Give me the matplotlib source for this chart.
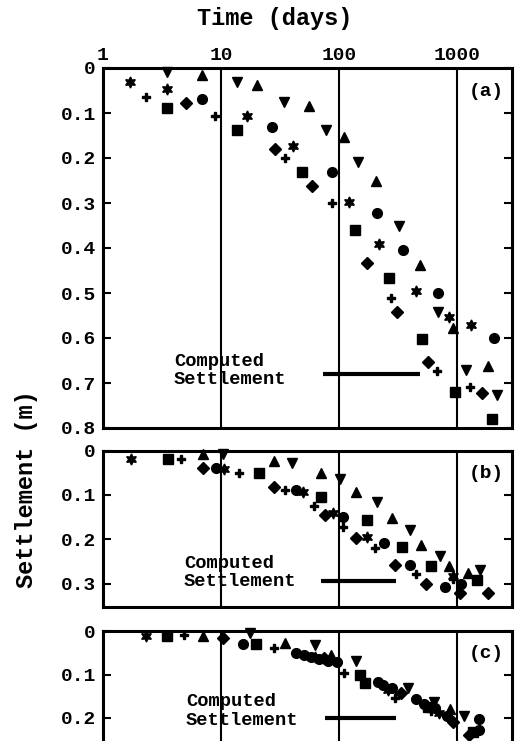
import matplotlib.pyplot as plt
from matplotlib.ticker import FixedLocator, FuncFormatter

plt.rcParams['font.family'] = ['Liberation Mono', 'DejaVu Sans Mono']
plt.rcParams['font.weight'] = 'bold'

# settlement records per plate, (time in days, settlement in m)
# panel (a)
a_star = [(1.69, 0.031), (3.45, 0.046), (16.7, 0.107), (40.6, 0.174), (122, 0.298),
          (218, 0.391), (448, 0.496), (846, 0.553), (1308, 0.572)]
a_plus = [(2.31, 0.064), (8.85, 0.107), (35.0, 0.201), (87.4, 0.300), (276, 0.510),
          (675, 0.673), (1291, 0.709)]
a_down = [(3.45, 0.009), (13.5, 0.031), (33.9, 0.075), (77.8, 0.137), (144, 0.209),
          (320, 0.350), (683, 0.542), (1187, 0.670), (2169, 0.727)]
a_up = [(6.83, 0.016), (20.3, 0.037), (55.1, 0.085), (110, 0.153), (203, 0.250),
        (478, 0.438), (914, 0.577), (1807, 0.663)]
a_square = [(3.45, 0.089), (13.7, 0.137), (48.4, 0.231), (135, 0.361), (262, 0.466),
            (500, 0.603), (958, 0.720), (1968, 0.779)]
a_diamond = [(5.03, 0.078), (28.4, 0.179), (58.8, 0.262), (173, 0.433), (310, 0.542),
             (562, 0.653), (1607, 0.722)]
a_circle = [(6.9, 0.068), (27.0, 0.131), (87.4, 0.231), (208, 0.322), (345, 0.404),
            (692, 0.500), (2060, 0.600)]

# panel (b)
b_star = [(1.72, 0.018), (10.6, 0.042), (49.2, 0.093), (88.3, 0.141), (171, 0.194),
          (910, 0.283)]
b_plus = [(4.56, 0.020), (14.2, 0.051), (35.0, 0.089), (60.8, 0.125), (107.5, 0.171),
          (199, 0.220), (448, 0.278), (914, 0.289)]
b_down = [(10.4, 0.008), (40.1, 0.027), (101, 0.065), (210, 0.115), (401, 0.179),
          (716, 0.237), (1559, 0.269)]
b_up = [(7.04, 0.008), (28.1, 0.023), (70.6, 0.050), (139, 0.093), (281, 0.152),
        (494, 0.213), (846, 0.259), (1224, 0.276)]
b_square = [(3.52, 0.020), (20.9, 0.051), (70.6, 0.104), (171, 0.156), (341, 0.218),
            (593, 0.259), (1459, 0.291)]
b_diamond = [(7.04, 0.040), (28.1, 0.083), (75.3, 0.145), (138, 0.197), (298, 0.257),
             (545, 0.300), (1056, 0.321), (1832, 0.321)]
b_circle = [(8.97, 0.040), (42.8, 0.089), (107.5, 0.150), (237, 0.209), (399, 0.257),
            (778, 0.306), (1077, 0.300)]

# panel (c)
c_star = [(2.31, 0.011), (62, 0.060), (260, 0.135), (700, 0.188)]
c_plus = [(4.87, 0.009), (27.9, 0.038), (108.7, 0.097), (294, 0.153), (600, 0.185),
          (1308, 0.234)]
c_down = [(17.5, 0.005), (62, 0.032), (139, 0.068), (381, 0.131), (640, 0.163),
          (1148, 0.195)]
c_up = [(7.04, 0.011), (34.4, 0.028), (85.9, 0.055), (874, 0.180)]
c_square = [(3.45, 0.011), (19.9, 0.030), (149, 0.101), (164, 0.119), (560, 0.175),
            (1350, 0.232)]
c_diamond = [(10.3, 0.015), (75, 0.063), (330, 0.142), (914, 0.209), (1250, 0.238)]
c_circle = [(15.3, 0.030), (43.2, 0.050), (50, 0.055), (58, 0.060), (68, 0.064),
            (80, 0.068), (95, 0.072), (212, 0.117), (235, 0.125), (280, 0.132),
            (443, 0.157), (520, 0.167), (650, 0.178), (820, 0.195), (1517, 0.203),
            (1531, 0.228)]

# computed settlement: (t_start, t_end, settlement)
computed_a = (72.8, 485, 0.68)
computed_b = (70.6, 300, 0.293)
computed_c = (75.3, 300, 0.20)

x_ticks = [1, 10, 100, 1000]
x_tick_labels = ['1', '10', '100', '1000']

markers = {
    'star': dict(marker=(6, 1, 0), ms=8),
    'plus': dict(marker='P', ms=6),
    'down': dict(marker='v', ms=7.5),
    'up': dict(marker='^', ms=7.5),
    'square': dict(marker='s', ms=6.5),
    'diamond': dict(marker='D', ms=6),
    'circle': dict(marker='o', ms=7),
}

panels = [
    dict(series={'star': a_star, 'plus': a_plus, 'down': a_down, 'up': a_up,
                 'square': a_square, 'diamond': a_diamond, 'circle': a_circle},
         computed=computed_a, label='(a)', ymax=0.8, yticks=[0, .1, .2, .3, .4, .5, .6, .7, .8],
         text_pos=(3.98, 0.672), rect=[103, 68, 409, 360]),
    dict(series={'star': b_star, 'plus': b_plus, 'down': b_down, 'up': b_up,
                 'square': b_square, 'diamond': b_diamond, 'circle': b_circle},
         computed=computed_b, label='(b)', ymax=0.352, yticks=[0, .1, .2, .3],
         text_pos=(4.84, 0.275), rect=[103, 450.5, 409, 156.5]),
    dict(series={'star': c_star, 'plus': c_plus, 'down': c_down, 'up': c_up,
                 'square': c_square, 'diamond': c_diamond, 'circle': c_circle},
         computed=computed_c, label='(c)', ymax=0.3, yticks=[0, .1, .2],
         text_pos=(5.03, 0.184), rect=[103, 631, 409, 130.5]),
]

W, H = 516, 741
fig = plt.figure(figsize=(W / 100, H / 100), dpi=100)


def fmt(v, pos):
    return '0' if abs(v) < 1e-9 else ('%.1f' % v)


for i, p in enumerate(panels):
    l, t, w, h = p['rect']
    ax = fig.add_axes([l / W, 1 - (t + h) / H, w / W, h / H])
    ax.set_xscale('log')
    ax.set_xlim(1, 2900)
    ax.set_ylim(p['ymax'], 0)

    for xv in [10, 100, 1000]:
        ax.axvline(xv, color='black', lw=1.5, zorder=1)

    for name, pts in p['series'].items():
        xs = [q[0] for q in pts]
        ys = [q[1] for q in pts]
        ax.plot(xs, ys, ls='none', color='black', mec='black', zorder=3,
                clip_on=False, **markers[name])

    t0, t1, s = p['computed']
    ax.plot([t0, t1], [s, s], color='black', lw=3, solid_capstyle='butt', zorder=2)
    ax.text(p['text_pos'][0], p['text_pos'][1], 'Computed\nSettlement',
            fontsize=13.5, fontweight='bold', ha='left', va='center', linespacing=1.1)
    ax.text(1750, 0.052, p['label'], fontsize=14, fontweight='bold',
            ha='center', va='center')

    ax.yaxis.set_major_locator(FixedLocator(p['yticks']))
    ax.yaxis.set_major_formatter(FuncFormatter(fmt))
    ax.tick_params(axis='y', which='major', direction='in', length=6, width=1.5,
                   labelsize=14, left=True, right=True, pad=5)
    ax.tick_params(axis='y', which='minor', left=False, right=False)
    for lab in ax.get_yticklabels():
        lab.set_fontweight('bold')

    ax.xaxis.set_major_locator(FixedLocator(x_ticks))
    ax.xaxis.set_minor_locator(FixedLocator([]))
    if i == 0:
        ax.xaxis.tick_top()
        ax.set_xticklabels(x_tick_labels, fontsize=14, fontweight='bold')
        ax.tick_params(axis='x', which='major', length=0, pad=3)
    else:
        ax.tick_params(axis='x', which='both', bottom=False, top=False,
                       labelbottom=False, labeltop=False)

    for sp in ax.spines.values():
        sp.set_linewidth(2.2)

fig.text(275 / W, 1 - 18 / H, 'Time (days)', fontsize=17, fontweight='bold',
         ha='center', va='center')
fig.text(27 / W, 1 - 489 / H, 'Settlement (m)', fontsize=17, fontweight='bold',
         ha='center', va='center', rotation=90)

fig.savefig('out.png', dpi=100)
